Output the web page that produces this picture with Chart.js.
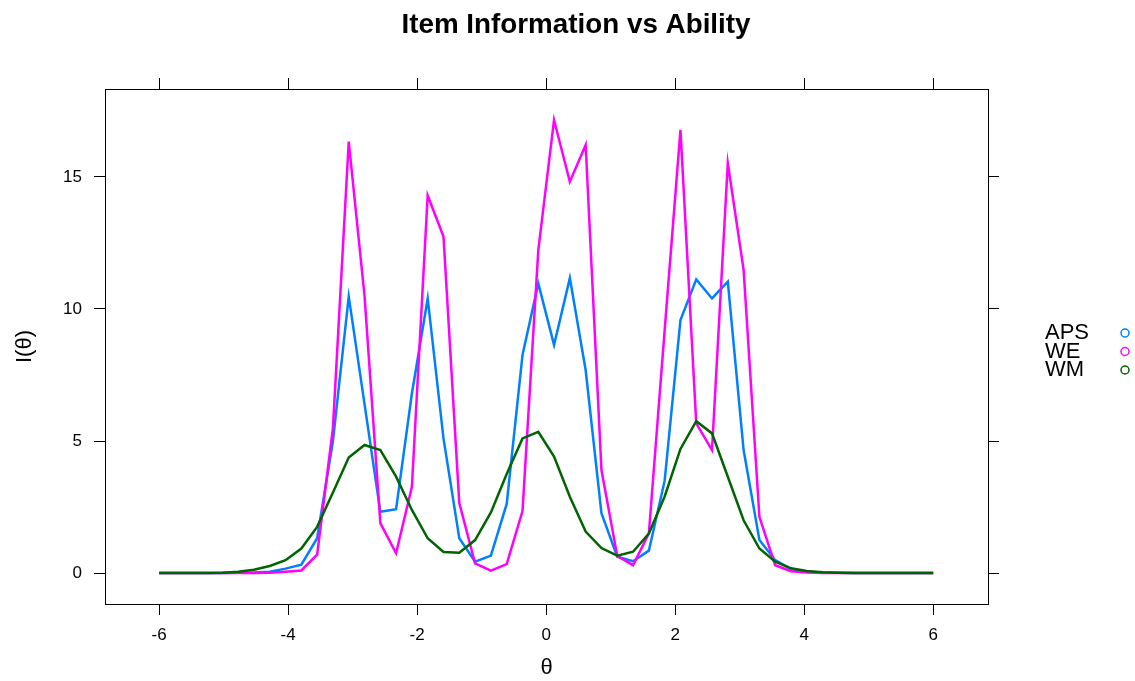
<!DOCTYPE html>
<html><head><meta charset="utf-8">
<script src="https://cdn.jsdelivr.net/npm/chart.js@4"></script>
<style>html,body{margin:0;padding:0;background:#fff;overflow:hidden}#wrap{width:1135px;height:681px;position:relative}</style>
</head><body><div id="wrap"><canvas id="c" width="1135" height="681"></canvas></div>
<script>
const theta = [-6.000,-5.755,-5.510,-5.265,-5.020,-4.776,-4.531,-4.286,-4.041,-3.796,
  -3.551,-3.306,-3.061,-2.816,-2.571,-2.327,-2.082,-1.837,-1.592,-1.347,
  -1.102,-0.857,-0.612,-0.367,-0.122,0.122,0.367,0.612,0.857,1.102,
  1.347,1.592,1.837,2.082,2.327,2.571,2.816,3.061,3.306,3.551,
  3.796,4.041,4.286,4.531,4.776,5.020,5.265,5.510,5.755,6.000];
const aps = [0,0,0,0,0,0.01,0.02,0.05,0.17,0.32,
  1.32,5.0,10.47,6.4,2.32,2.42,6.8,10.4,5.1,1.32,
  0.43,0.66,2.62,8.26,10.97,8.64,11.17,7.69,2.27,0.62,
  0.45,0.85,3.5,9.58,11.12,10.4,11.04,4.66,1.25,0.49,
  0.15,0.05,0.02,0.01,0,0,0,0,0,0];
const we = [0,0,0,0,0,0,0,0.01,0.05,0.1,
  0.7,5.5,16.34,10.5,1.89,0.75,3.27,14.3,12.74,2.65,
  0.37,0.09,0.34,2.35,12.23,17.16,14.82,16.21,3.9,0.65,
  0.3,1.5,9.2,16.78,5.67,4.66,15.52,11.48,2.13,0.3,
  0.07,0.02,0,0,0,0,0,0,0,0];
const wm = [0,0,0,0.005,0.01,0.05,0.13,0.27,0.49,0.93,
  1.75,3.05,4.38,4.85,4.66,3.65,2.39,1.32,0.8,0.77,
  1.25,2.3,3.75,5.1,5.35,4.41,2.89,1.57,0.95,0.66,
  0.81,1.5,2.9,4.7,5.75,5.29,3.65,2.0,0.93,0.43,
  0.18,0.08,0.03,0.01,0,0,0,0,0,0];
const seriesNames = ['APS','WE','WM'];
const seriesColors = ['#0080ff','#ff00ff','#006400'];
const xTicks = [-6,-4,-2,0,2,4,6];
const yTicks = [0,5,10,15];
const chartTitle = 'Item Information vs Ability';
const xTitle = 'θ';
const yTitle = 'I(θ)';

const FONT = '"Liberation Sans", Arial, Helvetica, sans-serif';
const AREA = {left: 105, right: 988, top: 89, bottom: 604};
const W = 1135, H = 681;
const XMIN = -6.84, XMAX = 6.85, YMIN = -1.17, YMAX = 18.33;

function toPts(ys){ return ys.map((v,i)=>({x: theta[i], y: v})); }

Chart.defaults.color = '#000';
Chart.defaults.font.family = FONT;

const gridOpts = {drawOnChartArea:false, drawTicks:true, tickLength:11, color:'#000', lineWidth:1};
const borderOpts = {display:true, color:'#000', width:1};

const decor = {
  id: 'decor',
  afterDraw(chart){
    const ctx = chart.ctx;
    ctx.save();
    // main title, centred on the page as in the reference
    ctx.font = 'bold 27.8px ' + FONT;
    ctx.fillStyle = '#000';
    ctx.textAlign = 'center';
    ctx.textBaseline = 'alphabetic';
    ctx.fillText(chartTitle, 576, 33.3);
    // legend on the right: label then open circle
    ctx.font = '22px ' + FONT;
    ctx.textBaseline = 'middle';
    ctx.textAlign = 'left';
    chart.data.datasets.forEach((ds,i)=>{
      const y = 333 + i*18.5;
      ctx.fillStyle = '#000';
      ctx.fillText(ds.label, 1045, y);
      ctx.beginPath();
      ctx.arc(1125, y, 4, 0, Math.PI*2);
      ctx.strokeStyle = ds.borderColor;
      ctx.lineWidth = 1.5;
      ctx.stroke();
    });
    ctx.restore();
  }
};

const datasets = [aps, we, wm].map((vals,i)=>({
  label: seriesNames[i],
  data: toPts(vals),
  borderColor: seriesColors[i],
  backgroundColor: seriesColors[i],
  borderWidth: 2.5,
  pointRadius: 0,
  tension: 0,
  fill: false,
  order: 3 - i
}));

new Chart(document.getElementById('c'), {
  type: 'line',
  data: {datasets},
  options: {
    responsive: false,
    animation: false,
    devicePixelRatio: 1,
    layout: {padding: 0},
    plugins: {
      legend: {display:false},
      tooltip: {enabled:false},
      title: {display:false}
    },
    scales: {
      x: {
        type:'linear', position:'bottom', min:XMIN, max:XMAX,
        afterBuildTicks: s => { s.ticks = xTicks.map(v=>({value:v})); },
        afterFit: s => { s.height = H - AREA.bottom; },
        ticks:{font:{size:17}, padding:10, color:'#000', maxRotation:0},
        grid: gridOpts, border: borderOpts,
        title:{display:true, text:xTitle, font:{size:22}, color:'#000', padding:{top:0,bottom:0}}
      },
      x2: {
        type:'linear', position:'top', min:XMIN, max:XMAX,
        afterBuildTicks: s => { s.ticks = xTicks.map(v=>({value:v})); },
        afterFit: s => { s.height = AREA.top; },
        ticks:{display:false},
        grid: gridOpts, border: borderOpts
      },
      y: {
        type:'linear', position:'left', min:YMIN, max:YMAX,
        afterBuildTicks: s => { s.ticks = yTicks.map(v=>({value:v})); },
        afterFit: s => { s.width = AREA.left; },
        ticks:{font:{size:17}, padding:12, color:'#000'},
        grid: gridOpts, border: borderOpts,
        title:{display:true, text:yTitle, font:{size:22}, color:'#000', padding:{top:12,bottom:0}}
      },
      y2: {
        type:'linear', position:'right', min:YMIN, max:YMAX,
        afterBuildTicks: s => { s.ticks = yTicks.map(v=>({value:v})); },
        afterFit: s => { s.width = W - AREA.right; },
        ticks:{display:false},
        grid: gridOpts, border: borderOpts
      }
    }
  },
  plugins: [decor]
});
</script></body></html>
